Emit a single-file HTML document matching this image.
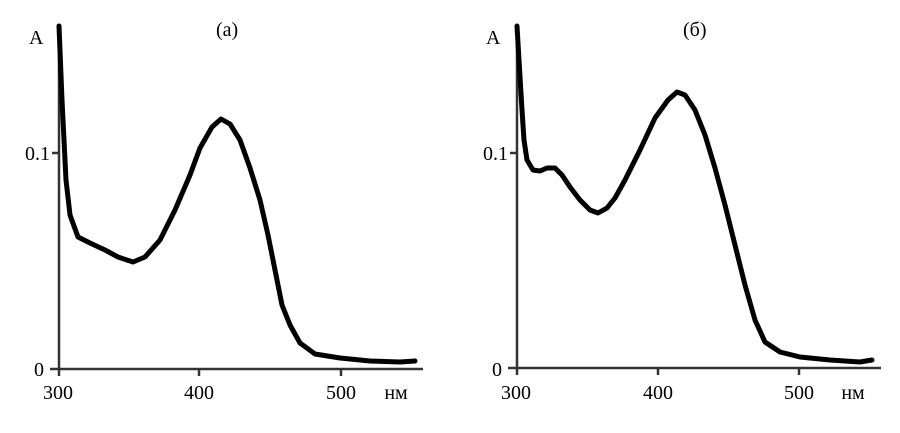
<!DOCTYPE html>
<html><head><meta charset="utf-8"><style>
html,body{margin:0;padding:0;background:#fff}
text{font-family:"Liberation Serif",serif;font-size:20px;fill:#000}
</style></head><body>
<svg width="900" height="428" viewBox="0 0 900 428" xmlns="http://www.w3.org/2000/svg">
<g stroke="#333" stroke-width="2.5" fill="none">
<line x1="59" y1="26" x2="59" y2="370"/><line x1="50" y1="369" x2="423" y2="369"/>
<line x1="52" y1="153" x2="59" y2="153"/><line x1="199" y1="369" x2="199" y2="376"/><line x1="341" y1="369" x2="341" y2="376"/><line x1="59" y1="369" x2="59" y2="376"/>
<line x1="517" y1="26" x2="517" y2="370"/><line x1="508" y1="368" x2="881" y2="368"/>
<line x1="510" y1="153" x2="517" y2="153"/><line x1="658" y1="368" x2="658" y2="375"/><line x1="799" y1="368" x2="799" y2="375"/><line x1="517" y1="368" x2="517" y2="375"/>
</g>
<g stroke="#000" stroke-width="5" fill="none" stroke-linejoin="round" stroke-linecap="round">
<polyline points="59,26 62,100 66,180 70,215 78,237 90,243 105,250 118,257 133,262 145,257 160,240 175,210 190,175 200,148 212,127 221,119 230,124 240,140 250,168 260,200 268,235 275,270 282,305 290,325 300,343 315,354 340,358 370,361 400,362 415,361"/>
<polyline points="517,26 519,60 522,110 524,140 527,160 533,170 540,171 547,168 555,168 562,175 570,187 580,200 590,210 598,213 607,208 615,198 625,180 640,150 655,118 668,100 677,92 685,95 695,110 705,135 715,168 725,205 735,245 745,285 755,320 765,342 780,352 800,357 830,360 860,362 872,360"/>
</g>
<text x="29" y="44">А</text><text x="216" y="36">(а)</text>
<text x="50" y="160" text-anchor="end">0.1</text><text x="44" y="376" text-anchor="end">0</text>
<text x="58" y="399" text-anchor="middle">300</text><text x="199" y="399" text-anchor="middle">400</text><text x="341" y="399" text-anchor="middle">500</text><text x="396" y="399" text-anchor="middle">нм</text>
<text x="486" y="44">А</text><text x="683" y="36">(б)</text>
<text x="508" y="160" text-anchor="end">0.1</text><text x="502" y="376" text-anchor="end">0</text>
<text x="516" y="399" text-anchor="middle">300</text><text x="658" y="399" text-anchor="middle">400</text><text x="799" y="399" text-anchor="middle">500</text><text x="853" y="399" text-anchor="middle">нм</text>
</svg>
</body></html>
